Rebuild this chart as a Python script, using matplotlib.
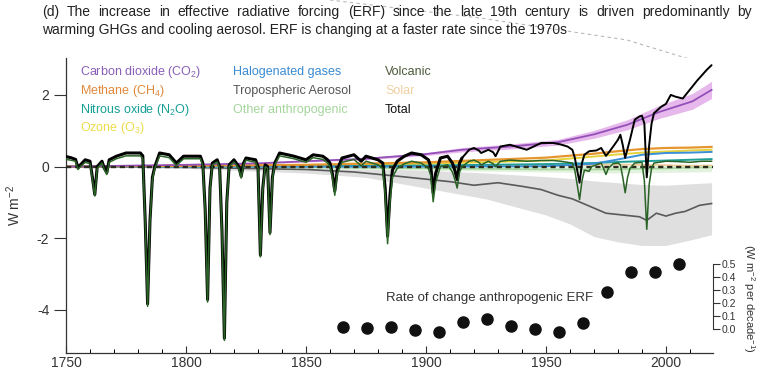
import matplotlib
matplotlib.use('Agg')
import matplotlib.pyplot as plt
from matplotlib.lines import Line2D
from matplotlib.ticker import MultipleLocator

plt.rcParams['font.family'] = ['Liberation Sans', 'DejaVu Sans']
plt.rcParams['mathtext.fontset'] = 'custom'
plt.rcParams['mathtext.rm'] = 'Liberation Sans'
plt.rcParams['mathtext.it'] = 'Liberation Sans:italic'
plt.rcParams['mathtext.bf'] = 'Liberation Sans:bold'
plt.rcParams['axes.unicode_minus'] = False

# ---------------- data (W m-2) ----------------
ghg_years = [1750, 1800, 1830, 1850, 1875, 1900, 1915, 1935, 1955, 1970, 1984, 1997, 2011, 2019]
co2 = [0.00, 0.05, 0.09, 0.15, 0.22, 0.35, 0.47, 0.56, 0.68, 0.90, 1.17, 1.52, 1.82, 2.14]
co2_lo = [0.00, 0.04, 0.08, 0.13, 0.19, 0.31, 0.41, 0.49, 0.60, 0.79, 1.03, 1.34, 1.60, 1.90]
co2_hi = [0.00, 0.06, 0.10, 0.17, 0.25, 0.39, 0.53, 0.63, 0.76, 1.01, 1.31, 1.70, 2.04, 2.38]

minor_years = [1750, 1800, 1850, 1900, 1950, 1970, 1980, 1990, 2000, 2010, 2019]
ch4 = [0.00, 0.02, 0.05, 0.12, 0.25, 0.36, 0.43, 0.49, 0.52, 0.53, 0.55]
n2o = [0.00, 0.00, 0.01, 0.03, 0.07, 0.10, 0.13, 0.15, 0.17, 0.19, 0.21]
ozone = [0.00, 0.01, 0.03, 0.08, 0.17, 0.28, 0.34, 0.39, 0.42, 0.45, 0.47]
halo = [0.00, 0.00, 0.00, 0.00, 0.01, 0.08, 0.20, 0.33, 0.38, 0.39, 0.41]
other = [0.00, -0.01, -0.02, -0.05, -0.08, -0.08, -0.08, -0.06, -0.05, -0.03, -0.02]
other_lo = [0.00, -0.03, -0.06, -0.10, -0.15, -0.17, -0.18, -0.17, -0.16, -0.15, -0.14]
other_hi = [0.00, 0.00, 0.01, 0.01, 0.02, 0.03, 0.04, 0.05, 0.06, 0.07, 0.07]
solar = [0.02, 0.01, 0.02, 0.02, 0.05, 0.05, 0.06, 0.05, 0.04, 0.02, 0.03]

aer_years = [1750, 1800, 1850, 1870, 1890, 1910, 1920, 1930, 1940, 1948, 1955, 1961, 1968,
             1975, 1982, 1989, 1992, 1996, 2000, 2004, 2008, 2014, 2019]
aerosol = [0.00, -0.02, -0.08, -0.15, -0.28, -0.42, -0.52, -0.45, -0.55, -0.64, -0.80, -0.90,
           -1.10, -1.30, -1.35, -1.40, -1.50, -1.30, -1.38, -1.30, -1.25, -1.08, -1.03]
aer_band_years = [1750, 1800, 1850, 1875, 1900, 1925, 1950, 1960, 1970, 1980, 1990, 2000, 2010, 2019]
aer_lo = [0.00, -0.05, -0.18, -0.30, -0.60, -0.90, -1.35, -1.60, -1.95, -2.10, -2.20, -2.20, -2.05, -1.90]
aer_hi = [0.00, 0.00, -0.02, -0.05, -0.10, -0.18, -0.28, -0.33, -0.40, -0.45, -0.50, -0.52, -0.48, -0.45]

total_years = [1750, 1752, 1754, 1755, 1756, 1758, 1760, 1761, 1762, 1763, 1765, 1766, 1767, 1768,
               1771, 1775, 1781, 1782, 1783, 1784, 1785, 1786, 1787, 1789, 1793, 1796, 1799, 1806,
               1807, 1808, 1809, 1810, 1811, 1813, 1814, 1815, 1816, 1817, 1818, 1820, 1822, 1823,
               1824, 1825, 1829, 1830, 1831, 1832, 1833, 1834, 1835, 1836, 1837, 1839, 1845, 1850,
               1853, 1857, 1859, 1860, 1861, 1862, 1863, 1865, 1870, 1873, 1875, 1880, 1882, 1883,
               1884, 1885, 1886, 1888, 1891, 1894, 1898, 1901, 1902, 1903, 1904, 1906, 1909, 1911,
               1912, 1913, 1914, 1915, 1918, 1920, 1922, 1923, 1926, 1928, 1929, 1931, 1935, 1942,
               1948, 1953, 1956, 1959, 1961, 1962, 1963, 1964, 1965, 1966, 1968, 1971, 1973, 1975,
               1976, 1978, 1980, 1981, 1982, 1983, 1984, 1985, 1987, 1989, 1990, 1991, 1992, 1993,
               1994, 1995, 1998, 2000, 2002, 2004, 2007, 2010, 2013, 2015, 2017, 2019]
total = [0.28, 0.25, 0.20, -0.03, 0.05, 0.19, 0.15, -0.30, -0.78, 0.00, 0.15, -0.05, -0.17, 0.19,
         0.29, 0.38, 0.38, 0.30, -1.50, -3.83, -1.50, -0.30, 0.00, 0.38, 0.33, 0.10, 0.29, 0.29,
         0.10, -1.20, -3.71, -0.60, 0.10, 0.19, 0.00, -1.80, -4.79, -1.00, 0.05, 0.19, 0.00, -0.27,
         0.10, 0.24, 0.19, 0.00, -2.47, -0.60, 0.05, 0.00, -1.84, -0.30, 0.10, 0.38, 0.29, 0.19,
         0.33, 0.29, 0.19, 0.10, -0.20, -0.68, -0.10, 0.24, 0.33, 0.15, 0.29, 0.19, 0.10, -0.60,
         -1.94, -0.80, -0.10, 0.15, 0.29, 0.38, 0.33, 0.19, 0.00, -0.73, -0.20, 0.24, 0.29, 0.10,
         -0.10, -0.36, 0.10, 0.24, 0.47, 0.52, 0.45, 0.38, 0.47, 0.40, 0.29, 0.56, 0.61, 0.47,
         0.66, 0.66, 0.62, 0.56, 0.47, 0.25, -0.10, -0.45, 0.10, 0.33, 0.43, 0.45, 0.52, 0.30,
         0.38, 0.56, 0.75, 0.89, 0.60, 0.24, 0.50, 0.75, 1.31, 1.40, 1.42, 1.20, -0.30, 0.60,
         1.20, 1.49, 1.67, 1.75, 2.00, 1.95, 1.90, 2.15, 2.40, 2.55, 2.70, 2.83]

volc_years = [1750, 1752, 1754, 1755, 1756, 1758, 1760, 1761, 1762, 1763, 1765, 1766, 1767, 1768,
              1771, 1775, 1781, 1782, 1783, 1784, 1785, 1786, 1787, 1789, 1793, 1796, 1799, 1806,
              1807, 1808, 1809, 1810, 1811, 1813, 1814, 1815, 1816, 1817, 1818, 1820, 1822, 1823,
              1824, 1825, 1829, 1830, 1831, 1832, 1833, 1834, 1835, 1836, 1837, 1839, 1845, 1850,
              1853, 1857, 1859, 1860, 1861, 1862, 1863, 1865, 1870, 1873, 1875, 1880, 1882, 1883,
              1884, 1885, 1886, 1888, 1891, 1894, 1898, 1901, 1902, 1903, 1904, 1906, 1909, 1911,
              1912, 1913, 1914, 1915, 1918, 1920, 1922, 1923, 1926, 1928, 1929, 1931, 1935, 1942,
              1948, 1953, 1956, 1959, 1961, 1962, 1963, 1964, 1965, 1966, 1968, 1969, 1971, 1973,
              1974, 1975, 1976, 1978, 1980, 1981, 1982, 1983, 1984, 1985, 1987, 1990, 1991, 1992,
              1993, 1994, 1995, 2000, 2005, 2010, 2015, 2019]
volcanic = [0.20, 0.18, 0.15, -0.08, 0.00, 0.12, 0.08, -0.35, -0.82, -0.05, 0.10, -0.08, -0.22, 0.12,
            0.22, 0.30, 0.30, 0.22, -1.55, -3.90, -1.55, -0.35, -0.05, 0.30, 0.25, 0.03, 0.22, 0.22,
            0.03, -1.25, -3.78, -0.65, 0.05, 0.13, -0.05, -1.85, -4.85, -1.05, 0.00, 0.13, -0.05, -0.32,
            0.05, 0.18, 0.12, -0.05, -2.52, -0.65, 0.00, -0.05, -1.90, -0.35, 0.05, 0.30, 0.22, 0.12,
            0.25, 0.20, 0.10, 0.00, -0.30, -0.80, -0.20, 0.12, 0.20, 0.02, 0.15, 0.05, -0.05, -0.80,
            -2.15, -1.00, -0.30, -0.05, 0.08, 0.15, 0.10, -0.05, -0.25, -0.98, -0.45, 0.00, 0.05, -0.15,
            -0.35, -0.60, -0.15, 0.00, 0.15, 0.18, 0.12, 0.05, 0.15, 0.08, 0.00, 0.15, 0.18, 0.15,
            0.17, 0.17, 0.15, 0.12, 0.10, -0.10, -0.50, -0.92, -0.40, -0.10, -0.13, 0.00, 0.05, 0.10,
            -0.05, -0.22, -0.05, 0.08, 0.10, 0.05, -0.30, -0.73, -0.30, -0.05, 0.10, 0.12, -0.40, -1.75,
            -0.50, -0.05, 0.10, 0.15, 0.14, 0.12, 0.15, 0.15]

# rate of change of anthropogenic ERF (W m-2 per decade)
rate_years = [1865.5, 1875.5, 1885.5, 1895.5, 1905.5, 1915.5, 1925.5, 1935.5, 1945.5,
              1955.5, 1965.5, 1975.5, 1985.5, 1995.5, 2005.5]
rate = [0.020, 0.012, 0.015, -0.005, -0.018, 0.058, 0.077, 0.025, 0.000,
        -0.018, 0.046, 0.287, 0.443, 0.440, 0.502]

legend_cols = [
    [("Carbon dioxide (CO$_{2}$)", '#8a5fb6'), ("Methane (CH$_{4}$)", '#e0893a'),
     ("Nitrous oxide (N$_{2}$O)", '#17a096'), ("Ozone (O$_{3}$)", '#ecdc4c')],
    [("Halogenated gases", '#3a8bd2'), ("Tropospheric Aerosol", '#555555'),
     ("Other anthropogenic", '#a4d59b')],
    [("Volcanic", '#4c5a3a'), ("Solar", '#f0d0a0'), ("Total", '#111111')],
]

title_line1 = ('(d) The increase in effective radiative forcing (ERF) since the late 19th century '
               'is driven predominantly by')
title_line2 = 'warming GHGs and cooling aerosol. ERF is changing at a faster rate since the 1970s'

W, H = 762, 372
fig = plt.figure(figsize=(W / 100, H / 100), dpi=100)
ax = fig.add_axes([66 / W, 1 - 353 / H, (713 - 66) / W, (353 - 58) / H])

# bands
ax.fill_between(aer_band_years, aer_lo, aer_hi, color='#dfdfdf', lw=0, zorder=1)
ax.fill_between(minor_years, other_lo, other_hi, color='#e2f2de', lw=0, zorder=1.2)
ax.fill_between(ghg_years, co2_lo, co2_hi, color='#e6b8ec', lw=0, zorder=1.4)

ax.plot(aer_years, aerosol, color='#5a5a5a', lw=1.2, zorder=2)
ax.plot(minor_years, other, color='#a5d79c', lw=1.2, zorder=2)
ax.plot(minor_years, solar, color='#f0cc96', lw=1.2, zorder=2)
ax.plot(minor_years, ozone, color='#e6d23a', lw=1.4, zorder=2.1)
ax.plot(minor_years, n2o, color='#1f9e96', lw=1.4, zorder=2.2)
ax.plot(minor_years, halo, color='#3a8fd6', lw=1.4, zorder=2.2)
ax.plot(minor_years, ch4, color='#e5962e', lw=1.6, zorder=2.3)
ax.plot(ghg_years, co2, color='#9450b8', lw=1.3, zorder=2.4)
ax.axhline(0, color='#2b2b20', lw=1.7, ls=(0, (2.2, 1.6)), zorder=3)

# total: heavier stroke in the early, overlapping part of the record
split = total_years.index(1915)
ax.plot(total_years[:split + 1], total[:split + 1], color='black', lw=2.2, zorder=4,
        solid_joinstyle='round', solid_capstyle='round')
ax.plot(total_years[split:], total[split:], color='black', lw=1.4, zorder=4,
        solid_joinstyle='round', solid_capstyle='round')
ax.plot(volc_years, volcanic, color='#2a6326', lw=1.1, zorder=5, solid_joinstyle='round')

ax.set_xlim(1750, 2019.6)
ax.set_ylim(-5.2, 3.03)
ax.set_xticks([1750, 1800, 1850, 1900, 1950, 2000])
ax.xaxis.set_minor_locator(MultipleLocator(10))
ax.set_yticks([-4, -2, 0, 2])
ax.tick_params(axis='x', which='major', direction='in', length=5, width=0.8, pad=2.5, labelsize=10, colors='#333333')
ax.tick_params(axis='x', which='minor', direction='in', length=3, width=0.7)
ax.tick_params(axis='y', direction='out', length=9, width=0.8, pad=3, labelsize=10, colors='#333333')
for s in ['top', 'right']:
    ax.spines[s].set_visible(False)
for s in ['left', 'bottom']:
    ax.spines[s].set_color('#333333')
    ax.spines[s].set_linewidth(0.9)
ax.set_ylabel('W m$^{-2}$', fontsize=10, color='#333333')
ax.yaxis.set_label_coords(-0.066, 0.5)

# rate axis
ax2 = ax.twinx()
ax2.set_ylim(-0.182, 2.087)
ax2.set_yticks([0.0, 0.1, 0.2, 0.3, 0.4, 0.5])
ax2.set_yticklabels(['0.0', '0.1', '0.2', '0.3', '0.4', '0.5'])
for s in ['top', 'left', 'bottom']:
    ax2.spines[s].set_visible(False)
ax2.spines['right'].set_bounds(0, 0.5)
ax2.spines['right'].set_color('#333333')
ax2.tick_params(axis='y', direction='out', length=5, width=0.8, pad=1, labelsize=7.5, colors='#333333')
ax2.plot(rate_years, rate, 'o', color='#111111', ms=8, zorder=6, clip_on=False)
ax2.text(0.655, 0.185, 'Rate of change anthropogenic ERF', transform=ax.transAxes,
         ha='center', va='center', fontsize=9.5, color='#333333')
fig.text(749 / W, 1 - 298 / H, '(W m$^{-2}$ per decade$^{-1}$)', rotation=270,
         ha='center', va='center', fontsize=8, color='#333333')

# legend text
col_x = [80, 233, 385]
row_y = [72, 91, 110, 128]
for cx, entries in zip(col_x, legend_cols):
    for ry, (label, c) in zip(row_y, entries):
        fig.text(cx / W, 1 - ry / H, label, color=c, fontsize=9, ha='left', va='center')

# title: first line justified between x=42 and x=752, second line left aligned
renderer = fig.canvas.get_renderer()
words = title_line1.split(' ')
objs = [fig.text(0, 1 - 12 / H, w, fontsize=10, color='#222222', ha='left', va='center') for w in words]
widths = [o.get_window_extent(renderer).width for o in objs]
gap = (752 - 42 - sum(widths)) / (len(words) - 1)
xpos = 42.0
for o, wd in zip(objs, widths):
    o.set_x(xpos / W)
    xpos += wd + gap
fig.text(42 / W, 1 - 30 / H, title_line2, fontsize=10, color='#222222', ha='left', va='center')

# faint dashed connector line at top right
px = [330, 480, 627, 712]
py = [0, 18, 40, 66]
fig.add_artist(Line2D([p / W for p in px], [1 - p / H for p in py], color='#b8b8b8',
                      lw=0.8, ls=(0, (3, 3)), zorder=0))

fig.savefig('out.png', dpi=100)
